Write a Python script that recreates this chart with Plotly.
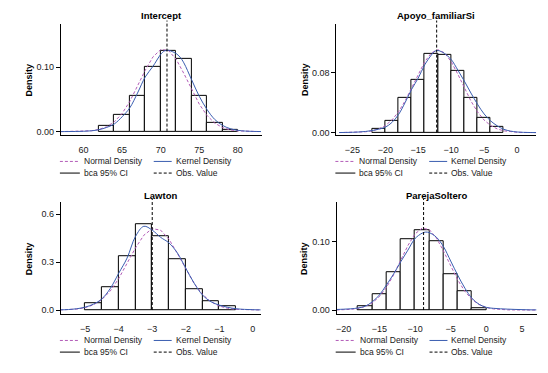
import plotly.graph_objects as go

# ---------------- data ----------------
titles = ["Intercept", "Apoyo_familiarSi", "Lawton", "ParejaSoltero"]
obs_values = [70.82, -12.2, -3.0, -8.8]

# histogram bin centres, widths and densities
h1_centres = [63, 65, 67, 69, 71, 73, 75, 77, 79]
h1_dens = [0.0093, 0.026, 0.056, 0.1005, 0.125, 0.113, 0.056, 0.014, 0.003]
h2_centres = [-21, -19, -17, -15, -13, -11, -9, -7, -5, -3]
h2_dens = [0.0053, 0.016, 0.0467, 0.0707, 0.1058, 0.1044, 0.0831, 0.0467, 0.020, 0.008]
h3_centres = [-4.75, -4.25, -3.75, -3.25, -2.75, -2.25, -1.75, -1.25, -0.75]
h3_dens = [0.042, 0.1406, 0.338, 0.537, 0.4615, 0.317, 0.130, 0.0545, 0.021]
h4_centres = [-17, -15, -13, -11, -9, -7, -5, -3, -1]
h4_dens = [0.0049, 0.0239, 0.0561, 0.1044, 0.1176, 0.1015, 0.0532, 0.0283, 0.0034]
bin_widths = [2, 2, 0.5, 2]

# normal density curves
n1_x = list(range(57, 84))
n1_y = [0.0000, 0.00004, 0.00015, 0.00046, 0.0013, 0.0033, 0.0075, 0.0153, 0.0282,
        0.0469, 0.0706, 0.0954, 0.1162, 0.1276, 0.1263, 0.1127, 0.0905, 0.0656,
        0.0428, 0.0252, 0.0133, 0.0064, 0.0027, 0.0011, 0.0004, 0.0001, 0.0000]
n2_x = list(range(-27, 4))
n2_y = [0.00002, 0.00006, 0.00016, 0.00043, 0.00104, 0.0023, 0.0049, 0.0094, 0.0168,
        0.0277, 0.0423, 0.0599, 0.0785, 0.0951, 0.1068, 0.1110, 0.1068, 0.0951,
        0.0785, 0.0599, 0.0423, 0.0277, 0.0168, 0.0094, 0.0049, 0.0023, 0.00104,
        0.00043, 0.00016, 0.00006, 0.00002]
n3_x = [-5.75, -5.5, -5.25, -5.0, -4.75, -4.5, -4.25, -4.0, -3.75, -3.5, -3.25, -3.0,
        -2.75, -2.5, -2.25, -2.0, -1.75, -1.5, -1.25, -1.0, -0.75, -0.5, -0.25, 0.0, 0.25]
n3_y = [0.0007, 0.0022, 0.0059, 0.0146, 0.0326, 0.0657, 0.1197, 0.1964, 0.2906, 0.3884,
        0.4680, 0.5093, 0.5000, 0.4430, 0.3540, 0.2555, 0.1662, 0.0977, 0.0517, 0.0247,
        0.0107, 0.0042, 0.0015, 0.0005, 0.0001]
n4_x = list(range(-21, 8))
n4_y = [0.00012, 0.00034, 0.00093, 0.0023, 0.0051, 0.0104, 0.0196, 0.0333, 0.0517,
        0.0733, 0.0948, 0.1119, 0.1204, 0.1182, 0.1059, 0.0865, 0.0645, 0.0439, 0.0272,
        0.0154, 0.0079, 0.0037, 0.0016, 0.0006, 0.0002, 0.0001, 0.00002, 0.0000, 0.0000]

# kernel density curves
k1_x = [57, 58, 59, 60, 61, 62, 63, 64, 65, 66, 67, 68, 69, 70, 70.5, 71, 71.5, 72, 72.5,
        73, 74, 75, 76, 77, 78, 79, 80, 81, 82, 83]
k1_y = [0.0000, 0.0001, 0.0002, 0.0005, 0.0012, 0.0030, 0.0065, 0.0120, 0.0230, 0.0370,
        0.0600, 0.0850, 0.1015, 0.1200, 0.1255, 0.1265, 0.1245, 0.1215, 0.1160, 0.1070,
        0.0810, 0.0550, 0.0345, 0.0190, 0.0098, 0.0046, 0.0020, 0.0008, 0.0003, 0.0001]
k2_x = [-27, -26, -25, -24, -23, -22, -21, -20, -19, -18, -17, -16, -15, -14, -13, -12.5,
        -12, -11.5, -11, -10, -9, -8, -7, -6, -5, -4, -3, -2, -1, 0, 1, 2, 3]
k2_y = [0.0001, 0.0002, 0.0004, 0.0008, 0.0015, 0.0027, 0.0045, 0.0072, 0.0135, 0.0240,
        0.0400, 0.0580, 0.0730, 0.0910, 0.1040, 0.1090, 0.1100, 0.1085, 0.1060, 0.0980,
        0.0840, 0.0690, 0.0530, 0.0380, 0.0250, 0.0156, 0.0090, 0.0044, 0.0020, 0.0008,
        0.0003, 0.0001, 0.0000]
k3_x = n3_x
k3_y = [0.001, 0.003, 0.008, 0.018, 0.037, 0.070, 0.135, 0.230, 0.325, 0.460, 0.524, 0.500,
        0.455, 0.420, 0.357, 0.262, 0.168, 0.094, 0.052, 0.031, 0.017, 0.008, 0.004, 0.002,
        0.001]
k4_x = [-21, -20, -19, -18, -17, -16, -15, -14, -13, -12, -11, -10, -9, -8.5, -8, -7, -6,
        -5, -4, -3, -2, -1, 0, 1, 2, 3, 4, 5, 6, 7]
k4_y = [0.0008, 0.0012, 0.0018, 0.0030, 0.0055, 0.0120, 0.0220, 0.0370, 0.0530, 0.0710,
        0.0880, 0.1050, 0.1130, 0.1146, 0.1137, 0.1070, 0.0930, 0.0720, 0.0510, 0.0320,
        0.0170, 0.0083, 0.0039, 0.0025, 0.0018, 0.0013, 0.0009, 0.0006, 0.0003, 0.0002]

x_ticks = [[60, 65, 70, 75, 80], [-25, -20, -15, -10, -5, 0],
           [-5, -4, -3, -2, -1, 0], [-20, -15, -10, -5, 0, 5]]
y_ticks = [[0, 0.10], [0, 0.08], [0, 0.3, 0.6], [0, 0.10]]
y_fmt = [".2f", ".2f", ".1f", ".2f"]
legend_labels = ["Normal Density", "Kernel Density", "bca 95% CI", "Obs. Value"]

# ---------------- layout helpers ----------------
W, H = 548, 373
FONT = "Liberation Sans, Arial, sans-serif"
NORMAL_C = "#b35cb8"
KERNEL_C = "#3a5db0"
TXT_C = "#1a1a1a"

def fx(px):
    return px / W

def fy(py):
    return 1 - py / H

# pixel boxes: (left, right, top, bottom) and axis ranges
boxes = [(60, 261, 24, 136), (336, 536, 24, 136), (60, 260, 203.3, 316), (336.3, 537, 203.3, 316)]
x_ranges = [[57.07, 83.07], [-27.42, 2.88], [-5.723, 0.229], [-20.98, 7.10]]
y_ranges = [[-0.0057, 0.1676], [-0.0036, 0.1457], [-0.0268, 0.6747], [-0.0063, 0.1585]]
title_y = [16, 16, 196.7, 196.7]

hists = [(h1_centres, h1_dens), (h2_centres, h2_dens), (h3_centres, h3_dens), (h4_centres, h4_dens)]
normals = [(n1_x, n1_y), (n2_x, n2_y), (n3_x, n3_y), (n4_x, n4_y)]
kernels = [(k1_x, k1_y), (k2_x, k2_y), (k3_x, k3_y), (k4_x, k4_y)]

fig = go.Figure()
annotations = []
shapes = []

for i in range(4):
    sfx = "" if i == 0 else str(i + 1)
    xa, ya = "x" + sfx, "y" + sfx
    L, R, T, B = boxes[i]
    hc, hd = hists[i]
    fig.add_trace(go.Bar(x=hc, y=hd, width=bin_widths[i], marker=dict(color="white", line=dict(color="black", width=1)),
                         xaxis=xa, yaxis=ya, showlegend=False))
    nx, ny = normals[i]
    fig.add_trace(go.Scatter(x=nx, y=ny, mode="lines", line=dict(color=NORMAL_C, width=1, dash="3px,2px"),
                             xaxis=xa, yaxis=ya, showlegend=False))
    kx, ky = kernels[i]
    fig.add_trace(go.Scatter(x=kx, y=ky, mode="lines", line=dict(color=KERNEL_C, width=1, shape="spline"),
                             xaxis=xa, yaxis=ya, showlegend=False))
    # observed value dashed line
    ymin, ymax = y_ranges[i]
    y0frac = (0 - ymin) / (ymax - ymin)
    shapes.append(dict(type="line", xref=xa, yref=ya + " domain", x0=obs_values[i], x1=obs_values[i],
                       y0=y0frac, y1=1.03, line=dict(color="black", width=1, dash="3px,2px")))

    fig.layout["xaxis" + sfx] = dict(domain=[fx(L), fx(R)], range=x_ranges[i], anchor=ya,
                                     showline=True, linecolor="black", linewidth=1, ticks="",
                                     tickvals=x_ticks[i], showgrid=False, zeroline=False,
                                     ticklabelstandoff=6,
                                     tickfont=dict(family=FONT, size=9, color=TXT_C))
    fig.layout["yaxis" + sfx] = dict(domain=[fy(B), fy(T)], range=y_ranges[i], anchor=xa,
                                     showline=True, linecolor="black", linewidth=1, ticks="outside",
                                     ticklen=4, tickcolor="black", tickvals=y_ticks[i], tickformat=y_fmt[i],
                                     showgrid=False, zeroline=False,
                                     tickfont=dict(family=FONT, size=9, color=TXT_C))
    # title
    annotations.append(dict(text="<b>" + titles[i] + "</b>", x=fx((L + R) / 2), y=fy(title_y[i]),
                            xref="paper", yref="paper", showarrow=False, xanchor="center", yanchor="middle",
                            font=dict(family=FONT, size=9.5, color="black")))
    # y title
    annotations.append(dict(text="<b>Density</b>", x=fx(L - 32), y=fy((T + B) / 2), xref="paper", yref="paper",
                            showarrow=False, textangle=-90, xanchor="center", yanchor="middle",
                            font=dict(family=FONT, size=9, color="black")))
    # legend
    row1 = B + 26.3
    row2 = B + 38
    items = [
        (L - 1, L + 19, row1, NORMAL_C, "3px,2px", legend_labels[0]),
        (L + 93, L + 111, row1, KERNEL_C, "solid", legend_labels[1]),
        (L - 1, L + 19, row2, "black", "solid", legend_labels[2]),
        (L + 93, L + 111, row2, "black", "3px,2px", legend_labels[3]),
    ]
    for (a, b, yy, col, dash, lab) in items:
        shapes.append(dict(type="line", xref="paper", yref="paper", x0=fx(a), x1=fx(b), y0=fy(yy), y1=fy(yy),
                           line=dict(color=col, width=1, dash=dash)))
        annotations.append(dict(text=lab, x=fx(b + 2), y=fy(yy), xref="paper", yref="paper", showarrow=False,
                                xanchor="left", yanchor="middle", font=dict(family=FONT, size=8.5, color=TXT_C)))

fig.update_layout(width=W, height=H, margin=dict(l=0, r=0, t=0, b=0), paper_bgcolor="white",
                  plot_bgcolor="white", showlegend=False, annotations=annotations, shapes=shapes,
                  bargap=0, font=dict(family=FONT, size=9))

fig.write_html("out.html", config={"displayModeBar": False},
               post_script="document.body.style.margin='0';document.body.style.padding='0';")
